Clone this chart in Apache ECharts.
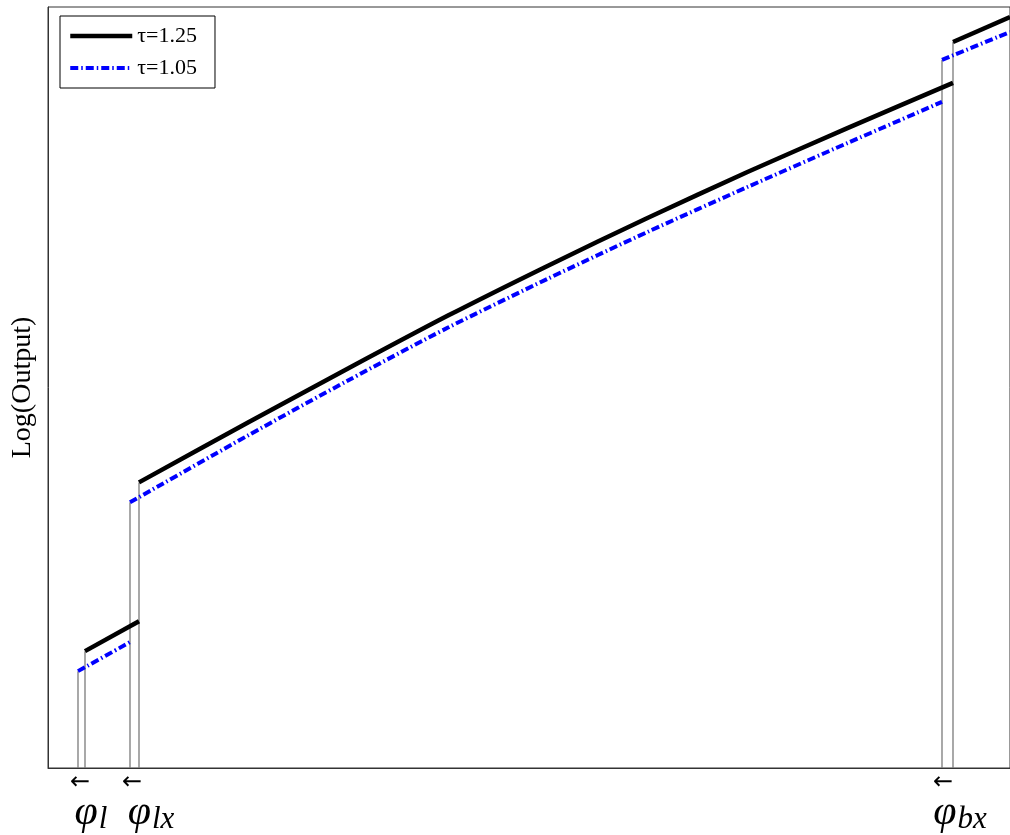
<!DOCTYPE html>
<html>
<head>
<meta charset="utf-8">
<script src="https://cdn.jsdelivr.net/npm/echarts@6/dist/echarts.min.js"></script>
<style>html,body{margin:0;padding:0;background:#fff}#c{width:1010px;height:835px}</style>
</head>
<body>
<div id="c"></div>
<script>
// Data (arbitrary units)
const black1 = [[37,117],[91,147]];
const black2 = [[91,286],[200,346],[300,400],[400,453],[500,503],[600,551],[700,597],[800,641],[905,686]];
const black3 = [[905,727],[962,752]];
const blue1 = [[30,97],[82,126]];
const blue2 = [[82,266],[200,333],[300,388],[400,441],[500,490],[600,537],[700,582],[800,626],[894,667]];
const blue3 = [[894,709],[962,737]];
const vertX = [30,37,82,91,894,905];
const vertTop = [97,117,266,286,709,727];
const arrowX = [32,84,895];
const thresholdX = [43,103,912];
const thresholdSub = ['l','lx','bx'];
const seriesNames = ['τ=1.25','τ=1.05'];

const serif = 'Liberation Serif';
const blackStyle = {color:'#000', width:4.5};
const blueStyle = {color:'#0000ff', width:4, type:[8,3,1.5,3]};
const series = [];
vertX.forEach((x,i)=>{
  series.push({type:'line', data:[[x,0],[x,vertTop[i]]], symbol:'none', silent:true,
    lineStyle:{color:'#7a7a7a', width:1.3}, z:1});
});
[black1,black2,black3].forEach(d=>series.push({name:seriesNames[0], type:'line', data:d, symbol:'none', smooth:0.25,
  lineStyle:blackStyle, itemStyle:{color:'#000'}, z:3}));
[blue1,blue2,blue3].forEach(d=>series.push({name:seriesNames[1], type:'line', data:d, symbol:'none', smooth:0.25,
  lineStyle:blueStyle, itemStyle:{color:'#0000ff'}, z:4}));

const chart = echarts.init(document.getElementById('c'));
chart.setOption({
  animation:false,
  backgroundColor:'#fff',
  grid:{left:48, right:0, top:7, bottom:66, show:true, borderColor:'#333', borderWidth:1},
  legend:{
    data:[{name:seriesNames[0], lineStyle:blackStyle, itemStyle:{opacity:0}},
          {name:seriesNames[1], lineStyle:blueStyle, itemStyle:{opacity:0}}],
    left:60, top:16, orient:'vertical',
    backgroundColor:'#fff', borderColor:'#000', borderWidth:1, borderRadius:0,
    padding:[9,18,9,8], itemGap:10, itemWidth:62, itemHeight:16,
    textStyle:{fontFamily:serif, fontSize:22, color:'#000'}
  },
  xAxis:[{
    type:'value', min:0, max:962, position:'bottom',
    axisLine:{show:true, lineStyle:{color:'#333'}}, axisTick:{show:false}, splitLine:{show:false},
    axisLabel:{customValues:arrowX, formatter:()=>'←', margin:3, fontSize:24, color:'#000', fontFamily:'DejaVu Sans'}
  },{
    type:'value', min:0, max:962, position:'bottom',
    axisLine:{show:false}, axisTick:{show:false}, splitLine:{show:false},
    axisLabel:{customValues:thresholdX, margin:22,
      formatter:(v)=>{const i=thresholdX.indexOf(v); return '{p|φ}{s|'+thresholdSub[i]+'}';},
      rich:{p:{fontFamily:serif, fontStyle:'italic', fontSize:42, color:'#000'},
            s:{fontFamily:serif, fontStyle:'italic', fontSize:31, color:'#000', verticalAlign:'bottom', padding:[14,0,0,1]}}}
  }],
  yAxis:{
    type:'value', min:0, max:762,
    name:'Log(Output)', nameLocation:'middle', nameGap:11,
    nameTextStyle:{fontFamily:serif, fontSize:28, color:'#000'},
    axisLine:{show:true, lineStyle:{color:'#333'}}, axisTick:{show:false}, axisLabel:{show:false}, splitLine:{show:false}
  },
  series:series
});
</script>
</body>
</html>
